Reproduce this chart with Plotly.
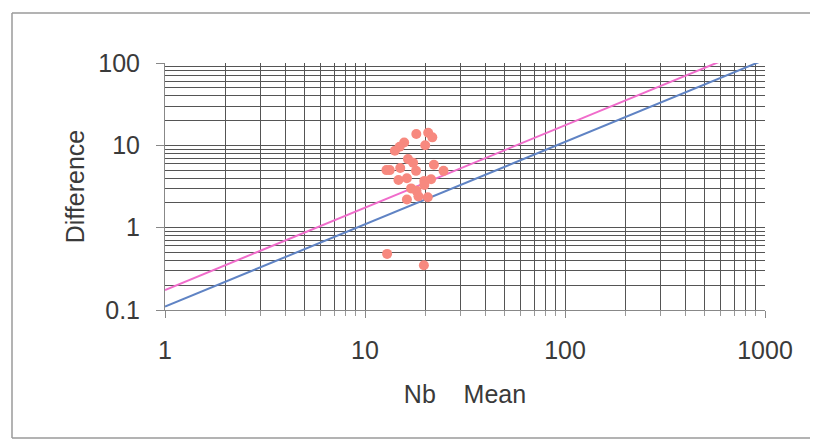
import plotly.graph_objects as go

# Scatter data (Nb Mean vs Difference)
nb_mean = [18.05, 20.7, 21.7, 15.7, 14.9, 14.1, 20.0, 16.4, 17.4, 22.1,
           12.8, 13.3, 15.0, 18.0, 24.7, 14.7, 16.2, 19.8, 21.4, 17.0,
           18.1, 19.8, 18.5, 20.6, 16.2, 12.9, 19.7]
difference = [13.7, 14.2, 12.5, 10.8, 9.6, 8.6, 10.0, 6.8, 6.15, 5.8,
              5.0, 5.0, 5.3, 4.9, 4.9, 3.8, 3.98, 3.7, 3.87, 3.0,
              2.8, 3.3, 2.4, 2.34, 2.2, 0.48, 0.35]

# Reference lines
blue_x = [1, 1000]
blue_y = [0.11, 110]
pink_x = [1, 600]
pink_y = [0.175, 105]

x_ticks = [1, 10, 100, 1000]
y_ticks = [0.1, 1, 10, 100]

font_family = "Liberation Sans, Arial, sans-serif"
grid_col = "#555555"
text_col = "#3a3a3a"
fs = 25

fig = go.Figure()
fig.add_trace(go.Scatter(x=blue_x, y=blue_y, mode="lines",
                         line=dict(color="#5f83c4", width=2), showlegend=False))
fig.add_trace(go.Scatter(x=pink_x, y=pink_y, mode="lines",
                         line=dict(color="#f06ccb", width=2), showlegend=False))
fig.add_trace(go.Scatter(x=nb_mean, y=difference, mode="markers",
                         marker=dict(color="#f7897f", size=10), showlegend=False))

frame = dict(color="#9a9a9a", width=1.5)
# page body has an 8px default margin, so the figure is sized to fit inside the window
fig.update_layout(
    width=802, height=432,
    margin=dict(l=157, r=45, t=55, b=130),
    paper_bgcolor="white", plot_bgcolor="white",
    font=dict(family=font_family, size=fs, color=text_col),
    shapes=[
        dict(type="line", xref="paper", yref="paper", x0=-0.255, x1=1.3, y0=1.202, y1=1.202, line=frame, layer="below"),
        dict(type="line", xref="paper", yref="paper", x0=-0.255, x1=-0.255, y0=1.202, y1=-0.518, line=frame, layer="below"),
        dict(type="line", xref="paper", yref="paper", x0=-0.255, x1=1.3, y0=-0.518, y1=-0.518, line=frame, layer="below"),
    ],
)

fig.update_xaxes(
    type="log", range=[0, 3], automargin=False,
    tickvals=x_ticks, ticktext=[str(v) for v in x_ticks],
    tickfont=dict(size=fs, color=text_col),
    showgrid=True, gridcolor=grid_col, gridwidth=1,
    showline=True, linecolor="#888", linewidth=1,
    ticks="outside", ticklen=7, tickcolor="#888",
    ticklabelstandoff=11,
    minor=dict(dtick="D1", showgrid=True, gridcolor=grid_col, gridwidth=1,
               ticks="outside", ticklen=5, tickcolor="#999"),
    title=dict(text="Nb\u00a0\u00a0\u00a0\u00a0Mean", font=dict(size=fs, color=text_col), standoff=22),
    zeroline=False, mirror=False,
)
fig.update_yaxes(
    type="log", range=[-1, 2], automargin=False,
    tickvals=y_ticks, ticktext=["0.1", "1", "10", "100"],
    tickfont=dict(size=fs, color=text_col),
    showgrid=True, gridcolor=grid_col, gridwidth=1,
    showline=True, linecolor="#888", linewidth=1,
    ticks="outside", ticklen=8, tickcolor="#888",
    ticklabelstandoff=11,
    minor=dict(dtick="D1", showgrid=True, gridcolor=grid_col, gridwidth=1),
    title=dict(text="Difference", font=dict(size=fs, color=text_col), standoff=6),
    zeroline=False,
)

fig.write_html("out.html")
